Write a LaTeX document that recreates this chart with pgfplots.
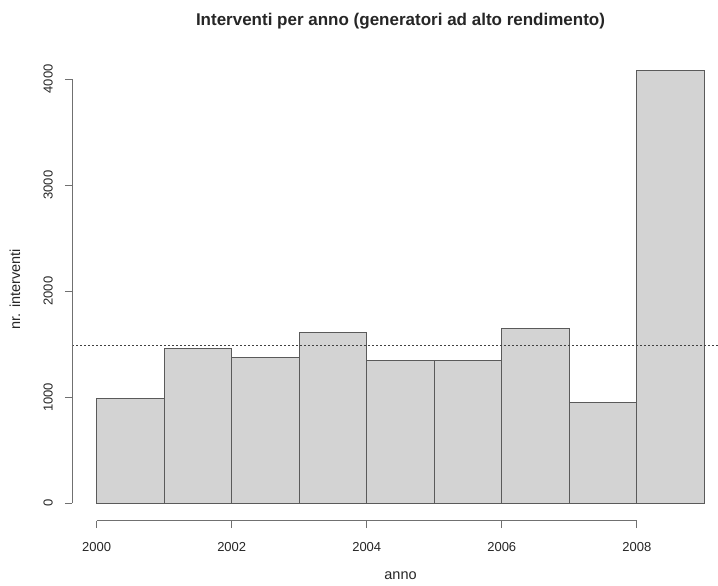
\documentclass[border=0pt]{standalone}
\usepackage{fontspec}
\setmainfont{Liberation Sans}
\usepackage{pgfplots}
\pgfplotsset{compat=1.18}
\definecolor{barfill}{HTML}{D3D3D3}
\definecolor{barline}{HTML}{5A5A5A}
\definecolor{axline}{HTML}{707070}
\begin{document}
\begin{tikzpicture}[x=1pt,y=1pt]
\path[use as bounding box] (0,0) rectangle (718,586);
\clip (0,0) rectangle (718,586);
\begin{axis}[
  at={(72.4pt,65.4pt)}, anchor=south west,
  scale only axis, width=656.2pt, height=467.5pt,
  xmin=1999.64, xmax=2009.36, ymin=-163, ymax=4244,
  axis lines*=left,
  axis line style={draw=none},
  tick align=outside,
  major tick length=7.5pt,
  tick style={axline, line width=0.8pt},
  xtick={2000,2002,2004,2006,2008},
  ytick={0,1000,2000,3000,4000},
  /pgf/number format/assume math mode=true,
  /pgf/number format/1000 sep={},
  tick label style={font=\fontsize{13}{15}\selectfont, text=black!85},
  yticklabel style={xshift=-12pt, rotate=90, anchor=south, inner sep=0pt},
  xticklabel style={anchor=north, inner sep=0pt, yshift=-14pt},
  xlabel={anno},
  ylabel={nr. interventi},
  label style={font=\fontsize{14.5}{17}\selectfont, text=black!85},
  xlabel style={at={(axis description cs:0.5,-0.118)}, anchor=center},
  ylabel style={at={(axis description cs:-0.0875,0.495)}, anchor=center},
  title={Interventi per anno (generatori ad alto rendimento)},
  title style={font=\fontsize{17}{20}\selectfont\bfseries, text=black!85, at={(axis description cs:0.5,1.056)}, anchor=center},
  clip=false,
]
\addplot[ybar interval, fill=barfill, draw=barline, line width=1pt] coordinates {
  (2000,985) (2001,1456) (2002,1378) (2003,1610) (2004,1342)
  (2005,1350) (2006,1645) (2007,954) (2008,4080) (2009,4080)
};
\addplot[black!75, line width=1pt, dash pattern=on 1.5pt off 2.5pt] coordinates {(1999.64,1490) (2009.36,1490)};
\draw[axline, line width=0.8pt] (axis cs:2000,-163) -- (axis cs:2008,-163);
\draw[axline, line width=0.8pt] (axis cs:1999.64,0) -- (axis cs:1999.64,4000);
\end{axis}
\end{tikzpicture}
\end{document}
